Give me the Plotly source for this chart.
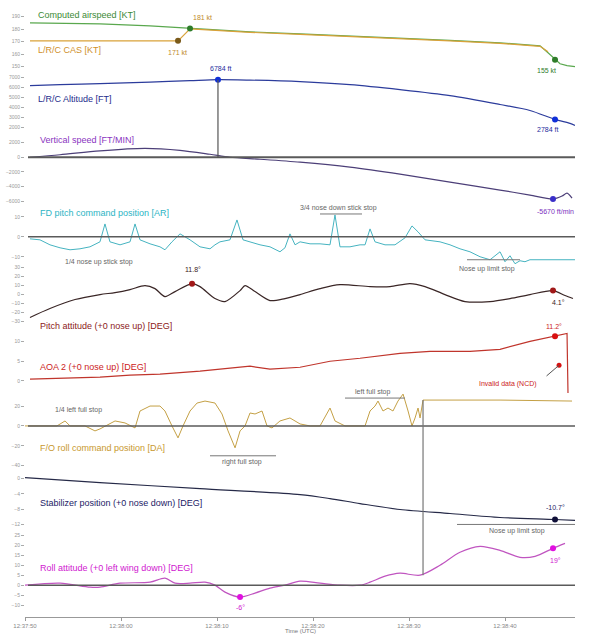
import plotly.graph_objects as go

# ---------------- data (time in seconds from start of window) ----------------
time_ticks = [0, 10, 20, 30, 40, 50]
time_labels = ["12:37:50", "12:38:00", "12:38:10", "12:38:20", "12:38:30", "12:38:40"]

cas_t = [0.52, 3.65, 7.81, 13.02, 17.19, 23.44, 28.65, 33.85, 39.06, 44.27, 49.48, 53.65, 54.48, 55.21, 55.73, 56.46, 57.29]
cas_kt = [185.0, 184.6, 184.2, 182.6, 180.6, 177.8, 176.2, 174.6, 173.0, 171.0, 169.0, 166.6, 161.0, 155.4, 152.2, 150.6, 149.8]
cas_mark_t = [17.19, 55.21]
cas_mark_kt = [180.6, 155.4]

lrc_t = [0.52, 7.81, 15.63, 15.94, 17.19, 23.44, 28.65, 33.85, 39.06, 44.27, 49.48, 53.65, 54.48]
lrc_kt = [170.6, 170.6, 170.6, 170.6, 180.2, 177.4, 175.8, 174.2, 172.6, 170.6, 168.6, 166.2, 161.8]
lrc_mark_t = [15.94]
lrc_mark_kt = [170.6]

alt_t = [0.52, 3.65, 7.81, 13.02, 17.19, 20.10, 23.44, 28.65, 33.85, 39.06, 44.27, 49.48, 52.60, 55.21, 56.77, 57.29]
alt_ft = [6184, 6284, 6384, 6534, 6684, 6784, 6734, 6584, 6284, 5784, 5184, 4284, 3684, 2784, 2384, 2184]
alt_mark_t = [20.10, 55.21]
alt_mark_ft = [6784, 2784]

vs_t = [0.52, 3.65, 7.81, 12.50, 16.15, 19.27, 21.35, 24.48, 28.65, 33.85, 39.06, 44.27, 49.48, 52.60, 55.00, 55.94, 56.46, 56.98]
vs_fpm = [0, 338, 878, 1215, 945, 405, 0, -270, -675, -1350, -2295, -3375, -4455, -5130, -5670, -5265, -4860, -5535]
vs_mark_t = [55.00]
vs_mark_fpm = [-5670]

fd_t = [0.52, 1.56, 2.60, 3.65, 4.69, 5.73, 6.77, 7.81, 8.33, 8.85, 9.90, 10.94, 11.46, 11.98, 13.02,
        14.06, 14.58, 15.31, 16.15, 17.19, 18.23, 19.27, 19.79, 20.31, 21.35, 22.08, 22.71, 23.44,
        24.48, 25.52, 26.56, 27.08, 27.60, 28.13, 28.65, 29.69, 30.73, 31.77, 32.29, 32.81, 33.85,
        34.90, 35.42, 35.94, 36.46, 37.50, 38.54, 39.58, 40.31, 40.94, 41.67, 43.23, 44.27, 45.31,
        46.35, 47.40, 48.44, 49.48, 50.00, 50.52, 51.04, 51.56, 52.08, 52.60, 57.29]
fd_cmd = [-1.0, -1.5, -4.0, -5.5, -6.5, -6.0, -5.0, -2.5, 6.5, -2.5, -4.0, -2.5, 6.5, -1.5, -3.5,
          -5.0, -6.5, -2.5, 1.5, -1.5, -5.0, -6.0, -4.0, -2.5, -1.5, 8.5, -1.5, -2.5,
          -4.0, -5.0, -7.5, -5.5, 1.5, -4.0, -2.5, -3.5, -3.5, -4.0, 11.0, -5.0, -5.0,
          -4.0, -4.0, 4.0, -2.5, -4.0, -4.0, -0.5, 5.5, 2.5, -1.5, -2.5, -4.0, -6.0,
          -7.5, -10.0, -11.5, -7.5, -12.5, -9.5, -13.5, -12.0, -12.5, -11.5, -11.5]

pitch_t = [0.52, 2.60, 5.21, 7.81, 9.38, 10.94, 12.50, 13.54, 14.58, 15.63, 17.40, 18.23, 19.79, 20.83,
           22.40, 22.92, 23.96, 25.52, 27.08, 28.65, 30.73, 32.81, 35.94, 38.02, 40.10, 41.67, 43.75,
           45.83, 48.44, 50.52, 52.60, 55.00, 56.25, 57.08]
pitch_deg = [-25.6, -15.7, -5.8, -0.3, 1.9, 5.2, 9.6, 6.3, -2.5, 3.0, 11.8, 8.5, -4.7, -8.0,
             4.1, 9.6, 3.0, -6.9, -4.7, -0.3, 6.3, 10.7, 8.5, 8.5, 11.8, 8.5, -0.3,
             -8.0, -8.0, -4.7, -0.3, 4.1, -1.4, -4.7]
pitch_mark_t = [17.40, 55.00]
pitch_mark_deg = [11.8, 4.1]

aoa_t = [0.52, 3.65, 7.81, 10.94, 14.06, 18.23, 21.35, 23.44, 25.52, 28.65, 31.77, 34.90, 39.06,
         42.19, 46.35, 49.48, 52.60, 55.21, 56.46, 56.56]
aoa_deg = [0.45, 0.7, 0.95, 1.45, 1.7, 2.45, 3.2, 3.7, 2.95, 3.45, 4.95, 5.7, 6.95,
           7.45, 7.45, 7.95, 9.95, 11.2, 11.95, -3.05]
aoa_mark_t = [55.21]
aoa_mark_deg = [11.2]
ncd_t = [55.63]
ncd_deg = [3.95]

rc_t = [0.0, 3.33, 4.17, 4.69, 6.25, 7.29, 7.81, 9.38, 10.42, 11.46, 11.98, 13.02, 14.06, 14.58,
        15.31, 15.94, 16.46, 17.19, 17.92, 18.75, 19.79, 20.52, 21.15, 21.88, 22.40, 22.92, 23.44,
        23.96, 24.69, 25.21, 25.73, 26.56, 27.60, 28.65, 29.69, 30.73, 31.77, 32.29, 33.33, 35.42,
        35.94, 36.46, 36.77, 37.29, 37.81, 38.33, 38.85, 39.38, 39.90, 40.31, 40.63, 40.94, 41.15,
        41.46, 49.48, 56.98]
rc_deg = [0, 0, 5, 0, 0, -5, -3, 5, 3, -2, 15, 20, 20, 15,
          0, -12, 0, 15, 23, 25, 23, 12, -5, -22, -5, 0, 13,
          12, 15, 0, -2, 5, 8, 2, 0, 0, 18, 5, 0, 0,
          15, 20, 25, 15, 18, 15, 25, 32, 15, 0, 8, 18, 8,
          26, 26, 25]

stab_t = [0.0, 7.81, 18.23, 28.65, 31.77, 34.90, 39.06, 44.27, 49.48, 55.21, 57.29]
stab_deg = [0.26, -1.04, -2.6, -4.16, -5.2, -6.5, -8.06, -9.1, -10.14, -10.66, -10.92]
stab_mark_t = [55.21]
stab_mark_deg = [-10.66]

roll_t = [0.0, 3.65, 6.77, 7.81, 9.90, 13.02, 14.58, 15.63, 17.19, 18.75, 19.79, 20.83, 22.40,
          23.96, 25.52, 27.08, 28.65, 30.73, 32.81, 34.90, 35.94, 37.50, 39.06, 41.15, 43.23,
          45.31, 47.40, 49.48, 51.56, 53.13, 55.00, 56.25]
roll_deg = [0, 1, -1, -1, 1, 1.5, 3.5, 1, 1, 1.5, 0, -3.5, -6,
            -4, -1.5, 0, 2, 1, 0, 0, 1.5, 4.5, 6, 5, 10,
            16.5, 19.5, 17.5, 14, 14.5, 18.5, 21]
roll_mark_t = [22.40, 55.00]
roll_mark_deg = [-6, 18.5]

# ---------------- layout geometry ----------------
W, H = 599, 639
ML, MR, MT, MB = 25, 24, 0, 22
PW = W - ML - MR
PH = H - MT - MB
X_MAX = 57.29

def pxx(px):
    return (px - ML) / PW

def pxy(py):
    return (PH + MT - py) / PH

AX = {
    "y":  dict(top=3,   bot=68,  lo=146.6, hi=198.6, dtick=10),
    "y2": dict(top=72,  bot=128, lo=1684,  hi=7284,  dtick=1000),
    "y3": dict(top=130, bot=205, lo=-6750, hi=3375,  dtick=2000),
    "y4": dict(top=205, bot=268, lo=-16.5, hi=15,    dtick=10),
    "y5": dict(top=262, bot=320, lo=-30,   hi=33.8,  dtick=10),
    "y6": dict(top=320, bot=395, lo=-3.8,  hi=14.95, dtick=5),
    "y7": dict(top=388, bot=470, lo=-45,   hi=37,    dtick=20),
    "y8": dict(top=470, bot=530, lo=-13.52, hi=2.08, dtick=4),
    "y9": dict(top=535, bot=605, lo=-10,   hi=25,    dtick=5),
}

def dom(a):
    s = AX[a]
    return [pxy(s["bot"]), pxy(s["top"])]

def to_paper(a, v):
    s = AX[a]
    d0, d1 = dom(a)
    return d0 + (v - s["lo"]) / (s["hi"] - s["lo"]) * (d1 - d0)

FONT = "Liberation Sans, Arial, sans-serif"
fig = go.Figure()

def line(t, v, ax, color, width=1.2, shape="linear"):
    fig.add_trace(go.Scatter(x=t, y=v, yaxis=ax, mode="lines",
                             line=dict(color=color, width=width, shape=shape, smoothing=0.8),
                             hoverinfo="skip", showlegend=False))

def marks(t, v, ax, color, size=6):
    fig.add_trace(go.Scatter(x=t, y=v, yaxis=ax, mode="markers",
                             marker=dict(color=color, size=size, line=dict(width=0)),
                             hoverinfo="skip", showlegend=False, cliponaxis=False))

line(cas_t, cas_kt, "y", "#5aa84e")
line(lrc_t, lrc_kt, "y", "#d9a23a")
marks(lrc_mark_t, lrc_mark_kt, "y", "#7a5a1a")
marks(cas_mark_t, cas_mark_kt, "y", "#2f7d2a")

line(alt_t, alt_ft, "y2", "#2c3c9c", shape="spline")
marks(alt_mark_t, alt_mark_ft, "y2", "#1030d8")

line(vs_t, vs_fpm, "y3", "#4c3f78", shape="spline")
marks(vs_mark_t, vs_mark_fpm, "y3", "#3a2fc8")

line(fd_t, fd_cmd, "y4", "#45b3c0", width=1.0)

line(pitch_t, pitch_deg, "y5", "#3a2626", shape="spline")
marks(pitch_mark_t, pitch_mark_deg, "y5", "#a01818")

line(aoa_t, aoa_deg, "y6", "#c0352c")
marks(aoa_mark_t, aoa_mark_deg, "y6", "#d81010")
marks(ncd_t, ncd_deg, "y6", "#d81010", size=5)

line(rc_t, rc_deg, "y7", "#c4a045", width=1.0)

line(stab_t, stab_deg, "y8", "#262a48", shape="spline")
marks(stab_mark_t, stab_mark_deg, "y8", "#101038")

line(roll_t, roll_deg, "y9", "#c055c0", shape="spline")
marks(roll_mark_t, roll_mark_deg, "y9", "#e010e0")

# ---------------- shapes ----------------
shapes = []
for ax_name, wdt in [("y3", 2.2), ("y4", 1.5), ("y7", 1.5), ("y9", 1.5)]:
    shapes.append(dict(type="line", xref="paper", yref=ax_name, x0=pxx(28), x1=1.0,
                       y0=0, y1=0, line=dict(color="#5a5a5a", width=wdt)))
# vertical connectors
shapes.append(dict(type="line", xref="x", yref="paper", x0=alt_mark_t[0], x1=alt_mark_t[0],
                   y0=to_paper("y2", alt_mark_ft[0]), y1=to_paper("y3", 0),
                   line=dict(color="#555", width=1.2)))
shapes.append(dict(type="line", xref="x", yref="paper", x0=rc_t[-3], x1=rc_t[-3],
                   y0=to_paper("y7", rc_deg[-3]), y1=to_paper("y9", roll_deg[23]),
                   line=dict(color="#777", width=1.2)))
# stop reference lines
for (x0, x1, py) in [(320, 362, 212), (467, 520, 258), (210, 276, 455), (345, 405, 397), (457, 575, 524)]:
    shapes.append(dict(type="line", xref="paper", yref="paper", x0=pxx(x0), x1=pxx(x1),
                       y0=pxy(py), y1=pxy(py), line=dict(color="#777", width=1)))

# ---------------- annotations ----------------
ann = []

def label(text, px, py, color, size=9, anchor="left"):
    ann.append(dict(x=pxx(px), y=pxy(py), xref="paper", yref="paper", text=text,
                    showarrow=False, xanchor=anchor, yanchor="middle",
                    font=dict(size=size, color=color, family=FONT)))

label("Computed airspeed [KT]", 36, 12, "#3c8a36")
label("L/R/C CAS [KT]", 36, 47, "#d0902a")
label("L/R/C Altitude [FT]", 36, 96, "#1e2c8c")
label("Vertical speed [FT/MIN]", 38, 138, "#8a34c0")
label("FD pitch command position [AR]", 38, 211, "#2cb4c4")
label("Pitch attitude (+0 nose up) [DEG]", 38, 325, "#8c2020")
label("AOA 2 (+0 nose up) [DEG]", 38, 366, "#cc2222")
label("F/O roll command position [DA]", 38, 447, "#c8982e")
label("Stabilizer position (+0 nose down) [DEG]", 38, 502, "#1c2266")
label("Roll attitude (+0 left wing down) [DEG]", 38, 568, "#d020d0")

label("181 kt", 202, 15, "#c08a2a", 7, "center")
label("171 kt", 177, 50, "#c08a2a", 7, "center")
label("155 kt", 546, 68, "#2f7d2a", 7, "center")
label("6784 ft", 220, 66, "#1e2c9c", 7, "center")
label("2784 ft", 547, 127, "#1e2c9c", 7, "center")
label("-5670 ft/min", 555, 210, "#7a30c0", 7, "center")
label("11.8°", 193, 268, "#3a1a1a", 7, "center")
label("4.1°", 558, 301, "#3a1a1a", 7, "center")
label("11.2°", 554, 325, "#cc2222", 7, "center")
label("Invalid data (NCD)", 508, 383, "#cc2222", 7, "center")
label("-10.7°", 555, 507, "#1c2266", 7, "center")
label("-6°", 240, 607, "#d020d0", 7, "center")
label("19°", 555, 560, "#d020d0", 7, "center")

label("3/4 nose down stick stop", 338, 206, "#666", 7, "center")
label("1/4 nose up stick stop", 99, 260, "#666", 7, "center")
label("Nose up limit stop", 487, 267, "#666", 7, "center")
label("1/4 left full stop", 78, 409, "#666", 7, "center")
label("right full stop", 242, 461, "#666", 7, "center")
label("left full stop", 373, 391, "#666", 7, "center")
label("Nose up limit stop", 517, 531, "#666", 7, "center")
label("Time (UTC)", 300, 631, "#777", 6, "center")

ann.append(dict(x=ncd_t[0], y=ncd_deg[0], xref="x", yref="y6", text="", showarrow=True,
                arrowhead=0, arrowwidth=1, arrowcolor="#555", ax=-14, ay=12))

# ---------------- axes ----------------
layout = dict(
    width=W, height=H,
    margin=dict(l=ML, r=MR, t=MT, b=MB, pad=0),
    paper_bgcolor="white", plot_bgcolor="rgba(0,0,0,0)",
    font=dict(family=FONT),
    shapes=shapes, annotations=ann, showlegend=False,
    xaxis=dict(domain=[0, 1], range=[0, X_MAX], anchor="free", position=0,
               tickmode="array", tickvals=time_ticks, ticktext=time_labels,
               ticks="outside", ticklen=3, tickcolor="#999",
               tickfont=dict(size=6, color="#888"), showline=True, linecolor="#999",
               linewidth=1, showgrid=False, zeroline=False),
)
for name, s in AX.items():
    key = "yaxis" if name == "y" else "yaxis" + name[1:]
    layout[key] = dict(domain=dom(name), range=[s["lo"], s["hi"]], anchor="x",
                       dtick=s["dtick"], ticks="outside", ticklen=3, tickcolor="#aaa",
                       tickfont=dict(size=5, color="#999"), showgrid=False,
                       zeroline=False, showline=False)

fig.update_layout(**layout)
fig.write_html("out.html")
